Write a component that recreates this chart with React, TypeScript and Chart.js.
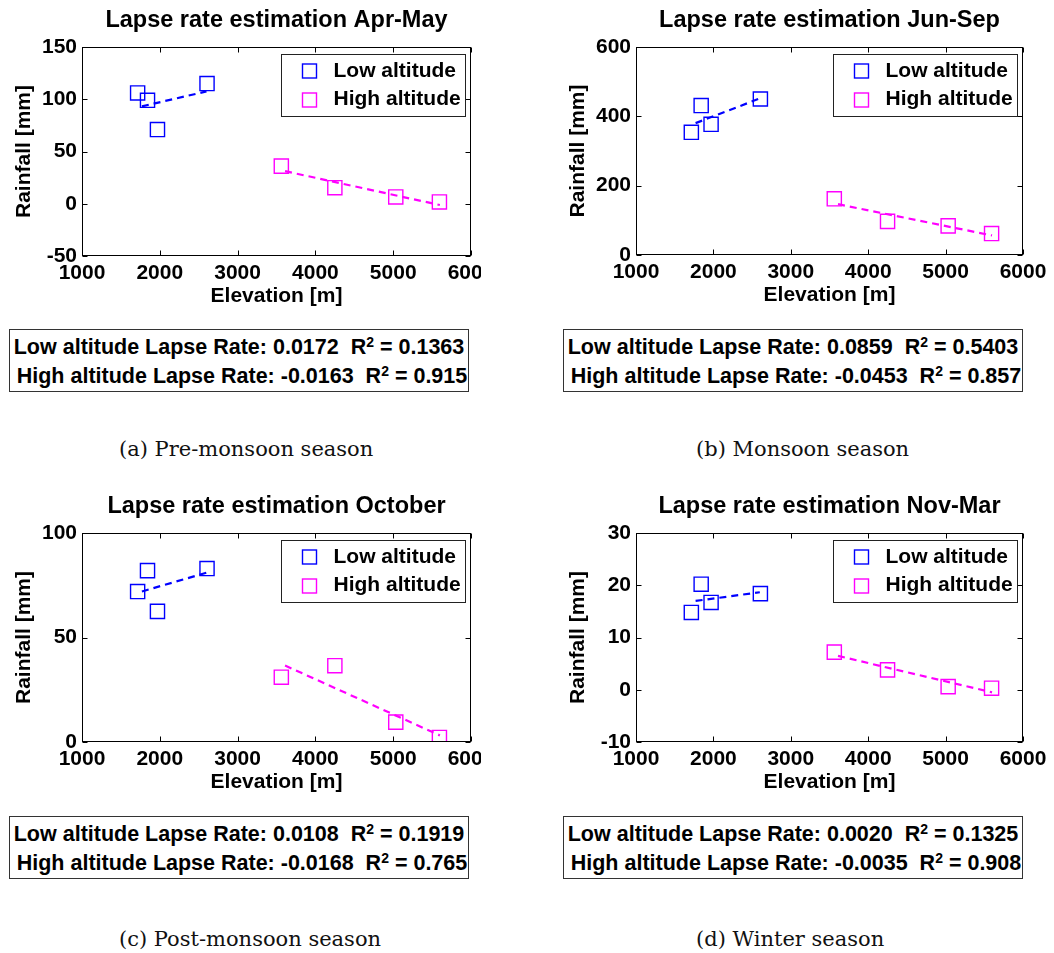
import React, { useEffect, useRef } from 'react';
import { Chart, registerables } from 'chart.js';

Chart.register(...registerables);

const SANS = '"Liberation Sans", Arial, Helvetica, sans-serif';
const SERIF = '"DejaVu Serif", serif';
const BLUE = '#0000ff';
const MAGENTA = '#ff00ff';

// Station elevations [m]
const lowElevation = [1715, 1842, 1970, 2607];
const highElevation = [3562, 4250, 5033, 5594];
// Elevation span covered by the dashed regression lines
const lowFitSpan = [1770, 2600];
const highFitSpan = [3610, 5600];

// Seasonal rainfall [mm] per station
const preMonsoonLow = [106, 99, 71, 115];
const preMonsoonHigh = [36, 15.4, 6.5, 1.7];
const monsoonLow = [354, 431, 377, 450];
const monsoonHigh = [162, 97, 84, 62];
const postMonsoonLow = [72, 82, 62.5, 83];
const postMonsoonHigh = [31, 36.5, 9.5, 2.2];
const winterLow = [14.8, 20.2, 16.7, 18.4];
const winterHigh = [7.2, 3.8, 0.6, 0.3];

// Regression results (slope in mm per m)
const lowLapseRates = [0.0172, 0.0859, 0.0108, 0.002];
const lowR2 = ['0.1363', '0.5403', '0.1919', '0.1325'];
const highLapseRates = [-0.0163, -0.0453, -0.0168, -0.0035];
const highR2 = ['0.915', '0.857', '0.765', '0.908'];

const titles = [
  'Lapse rate estimation Apr-May',
  'Lapse rate estimation Jun-Sep',
  'Lapse rate estimation October',
  'Lapse rate estimation Nov-Mar',
];
const captions = [
  '(a) Pre-monsoon season',
  '(b) Monsoon season',
  '(c) Post-monsoon season',
  '(d) Winter season',
];
const legendLabels = ['Low altitude', 'High altitude'];
const xAxisLabel = 'Elevation [m]';
const yAxisLabel = 'Rainfall [mm]';

// Axis ranges
const xMin = 1000;
const xMax = 6000;
const xStep = 1000;
const yMins = [-50, 0, 0, -10];
const yMaxs = [150, 600, 100, 30];
const ySteps = [50, 200, 50, 10];

const seasonLow = [preMonsoonLow, monsoonLow, postMonsoonLow, winterLow];
const seasonHigh = [preMonsoonHigh, monsoonHigh, postMonsoonHigh, winterHigh];

// Page placement of each plot canvas (chart area given relative to the canvas)
const frames = [
  { left: 0, top: 0, width: 520, clip: 481, chartLeft: 82, chartRight: 471, chartTop: 47, chartBottom: 256 },
  { left: 540, top: 0, width: 514, clip: 514, chartLeft: 96, chartRight: 483, chartTop: 47, chartBottom: 255 },
  { left: 0, top: 480, width: 520, clip: 481, chartLeft: 82, chartRight: 471, chartTop: 53, chartBottom: 262 },
  { left: 540, top: 480, width: 514, clip: 514, chartLeft: 96, chartRight: 483, chartTop: 53, chartBottom: 262 },
];
const CANVAS_H = 320;
const boxFrames = [
  { left: 9, top: 329 },
  { left: 563, top: 329 },
  { left: 9, top: 816 },
  { left: 563, top: 816 },
];
const captionFrames = [
  { left: 119, top: 437 },
  { left: 696, top: 437 },
  { left: 119, top: 927 },
  { left: 696, top: 927 },
];

const mean = (a: number[]) => a.reduce((s, v) => s + v, 0) / a.length;

// Least-squares line with the reported slope, passing through the data centroid
function fitLine(xs: number[], ys: number[], slope: number, span: number[]) {
  const mx = mean(xs);
  const my = mean(ys);
  return span.map((x) => ({ x, y: my + slope * (x - mx) }));
}

const toPoints = (xs: number[], ys: number[]) => xs.map((x, i) => ({ x, y: ys[i] }));

// Boxed axes with inward ticks on all sides, title, axis labels and legend
const matlabFrame: any = {
  id: 'matlabFrame',
  afterDraw(chart: any, _args: any, opts: any) {
    const { ctx, chartArea } = chart;
    const { left, right, top, bottom } = chartArea;
    const L = Math.round(left) + 0.5;
    const R = Math.round(right) - 0.5;
    const T = Math.round(top) + 0.5;
    const B = Math.round(bottom) - 0.5;
    ctx.save();
    ctx.strokeStyle = '#000';
    ctx.lineWidth = 1;
    ctx.setLineDash([]);
    ctx.strokeRect(L, T, R - L, B - T);

    const tick = 5;
    const xs = chart.scales.x;
    const ys = chart.scales.y;
    ctx.beginPath();
    xs.ticks.forEach((t: any) => {
      const px = Math.round(xs.getPixelForValue(t.value)) + 0.5;
      ctx.moveTo(px, B);
      ctx.lineTo(px, B - tick);
      ctx.moveTo(px, T);
      ctx.lineTo(px, T + tick);
    });
    ys.ticks.forEach((t: any) => {
      const py = Math.round(ys.getPixelForValue(t.value)) + 0.5;
      ctx.moveTo(L, py);
      ctx.lineTo(L + tick, py);
      ctx.moveTo(R, py);
      ctx.lineTo(R - tick, py);
    });
    ctx.stroke();

    ctx.fillStyle = '#000';
    ctx.textAlign = 'center';
    ctx.textBaseline = 'middle';
    ctx.font = `bold 23.5px ${SANS}`;
    ctx.fillText(opts.title, (left + right) / 2, top - 26);
    ctx.font = `bold 21px ${SANS}`;
    ctx.fillText(opts.xLabel, (left + right) / 2, bottom + 40);
    ctx.save();
    ctx.translate(left - 58, (top + bottom) / 2);
    ctx.rotate(-Math.PI / 2);
    ctx.fillText(opts.yLabel, 0, 0);
    ctx.restore();

    // legend
    const w = 184;
    const h = 62;
    const bx = Math.round(right - 6 - w) + 0.5;
    const by = Math.round(top + 7) + 0.5;
    ctx.fillStyle = '#fff';
    ctx.fillRect(bx, by, w, h);
    ctx.strokeStyle = '#222';
    ctx.lineWidth = 1;
    ctx.strokeRect(bx, by, w, h);
    opts.legend.forEach((item: any, i: number) => {
      const cy = by + 16.5 + i * 28.6;
      ctx.strokeStyle = item.color;
      ctx.lineWidth = 1.4;
      ctx.strokeRect(bx + 21, Math.round(cy - 7), 14, 14);
      ctx.fillStyle = '#000';
      ctx.textAlign = 'left';
      ctx.textBaseline = 'middle';
      ctx.font = `bold 21px ${SANS}`;
      ctx.fillText(item.label, bx + 52, cy);
    });
    ctx.restore();
  },
};

function LapsePanel({ index }: { index: number }) {
  const ref = useRef<HTMLCanvasElement>(null);
  const f = frames[index];

  useEffect(() => {
    if (!ref.current) return;
    const low = seasonLow[index];
    const high = seasonHigh[index];
    const tickFont = { family: SANS, size: 21, weight: 'bold' as const };
    const chart = new Chart(ref.current, {
      type: 'scatter',
      data: {
        datasets: [
          {
            label: legendLabels[0],
            data: toPoints(lowElevation, low),
            pointStyle: 'rect',
            pointRadius: 10,
            borderWidth: 1.4,
            pointBorderWidth: 1.4,
            borderColor: BLUE,
            backgroundColor: 'rgba(0,0,0,0)',
            showLine: false,
          },
          {
            label: legendLabels[1],
            data: toPoints(highElevation, high),
            pointStyle: 'rect',
            pointRadius: 10,
            borderWidth: 1.4,
            pointBorderWidth: 1.4,
            borderColor: MAGENTA,
            backgroundColor: 'rgba(0,0,0,0)',
            showLine: false,
          },
          {
            label: 'Low altitude fit',
            data: fitLine(lowElevation, low, lowLapseRates[index], lowFitSpan),
            showLine: true,
            borderColor: BLUE,
            borderWidth: 2.2,
            borderDash: [7, 5],
            pointRadius: 0,
          },
          {
            label: 'High altitude fit',
            data: fitLine(highElevation, high, highLapseRates[index], highFitSpan),
            showLine: true,
            borderColor: MAGENTA,
            borderWidth: 2.2,
            borderDash: [7, 5],
            pointRadius: 0,
          },
        ] as any,
      },
      options: {
        responsive: false,
        animation: false,
        devicePixelRatio: 1,
        layout: {
          padding: { left: 0, top: f.chartTop, right: f.width - f.chartRight, bottom: 0 },
        },
        plugins: {
          legend: { display: false },
          tooltip: { enabled: false },
          matlabFrame: {
            title: titles[index],
            xLabel: xAxisLabel,
            yLabel: yAxisLabel,
            legend: [
              { label: legendLabels[0], color: BLUE },
              { label: legendLabels[1], color: MAGENTA },
            ],
          },
        } as any,
        scales: {
          x: {
            type: 'linear',
            min: xMin,
            max: xMax,
            grid: { display: false, drawTicks: false },
            border: { display: false },
            ticks: {
              stepSize: xStep,
              autoSkip: false,
              maxRotation: 0,
              color: '#000',
              font: tickFont,
              padding: 5,
              callback: (v: any) => String(v),
            },
            afterFit: (s: any) => {
              s.height = CANVAS_H - f.chartBottom;
            },
          },
          y: {
            type: 'linear',
            min: yMins[index],
            max: yMaxs[index],
            grid: { display: false, drawTicks: false },
            border: { display: false },
            ticks: {
              stepSize: ySteps[index],
              autoSkip: false,
              color: '#000',
              font: tickFont,
              padding: 5,
              callback: (v: any) => String(v),
            },
            afterFit: (s: any) => {
              s.width = f.chartLeft;
            },
          },
        } as any,
      },
      plugins: [matlabFrame],
    });
    return () => chart.destroy();
  }, [index]);

  return (
    <div
      style={{
        position: 'absolute',
        left: f.left,
        top: f.top,
        width: f.clip,
        height: CANVAS_H,
        overflow: 'hidden',
      }}
    >
      <canvas
        ref={ref}
        width={f.width}
        height={CANVAS_H}
        style={{ width: f.width, height: CANVAS_H, display: 'block' }}
      />
    </div>
  );
}

function StatsBox({ index }: { index: number }) {
  const b = boxFrames[index];
  const sup = { fontSize: 14, verticalAlign: 7, lineHeight: 0 };
  return (
    <div
      style={{
        position: 'absolute',
        left: b.left,
        top: b.top,
        width: 460,
        height: 63,
        boxSizing: 'border-box',
        border: '1px solid #333',
        paddingTop: 3,
        font: `bold 21.5px ${SANS}`,
        lineHeight: '29px',
        textAlign: 'center',
        whiteSpace: 'pre',
        color: '#000',
        background: '#fff',
      }}
    >
      <div>
        {`Low altitude Lapse Rate: ${lowLapseRates[index].toFixed(4)}  R`}
        <sup style={sup}>2</sup>
        {` = ${lowR2[index]}`}
      </div>
      <div>
        {` High altitude Lapse Rate: ${highLapseRates[index].toFixed(4)}  R`}
        <sup style={sup}>2</sup>
        {` = ${highR2[index]}`}
      </div>
    </div>
  );
}

function Caption({ index }: { index: number }) {
  const c = captionFrames[index];
  return (
    <div
      style={{
        position: 'absolute',
        left: c.left,
        top: c.top,
        font: `21px ${SERIF}`,
        lineHeight: '24px',
        whiteSpace: 'pre',
        color: '#111',
      }}
    >
      {captions[index]}
    </div>
  );
}

export default function App() {
  const idx = [0, 1, 2, 3];
  return (
    <div
      style={{
        position: 'absolute',
        left: 0,
        top: 0,
        width: 1054,
        height: 953,
        background: '#fff',
        overflow: 'hidden',
      }}
    >
      {idx.map((i) => (
        <LapsePanel key={`p${i}`} index={i} />
      ))}
      {idx.map((i) => (
        <StatsBox key={`b${i}`} index={i} />
      ))}
      {idx.map((i) => (
        <Caption key={`c${i}`} index={i} />
      ))}
    </div>
  );
}
